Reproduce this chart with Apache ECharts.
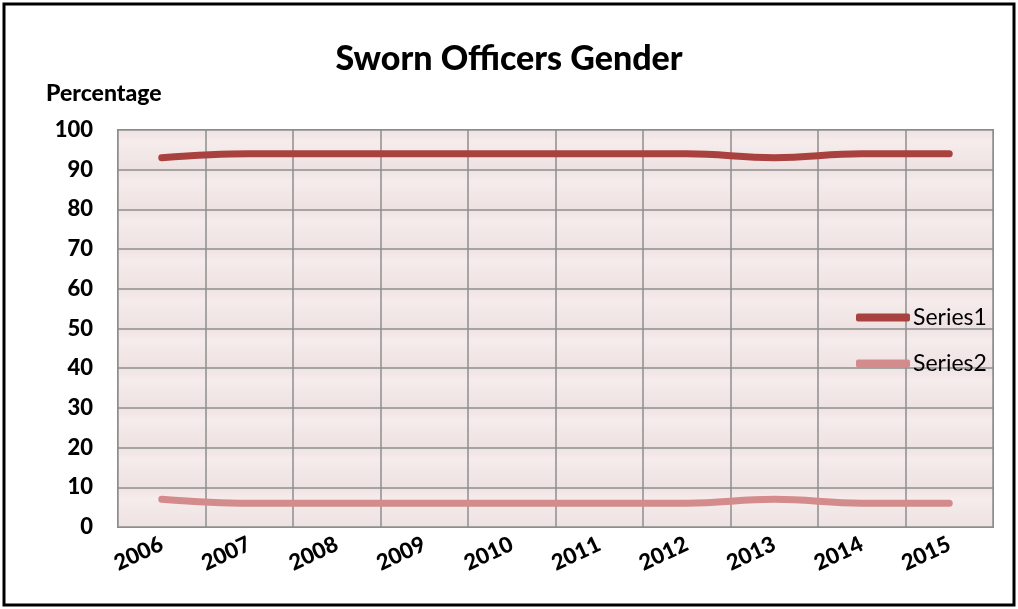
<!DOCTYPE html>
<html>
<head>
<meta charset="utf-8">
<script src="https://cdn.jsdelivr.net/npm/echarts@6/dist/echarts.min.js"></script>
<style>
  html, body { margin: 0; padding: 0; background: #fff; }
  #chart { width: 1018px; height: 609px; }
</style>
</head>
<body>
<div id="chart"></div>
<script>
// 年份
var years = ["2006", "2007", "2008", "2009", "2010", "2011", "2012", "2013", "2014", "2015"];
// 数据
var series1 = [93, 94, 94, 94, 94, 94, 94, 93, 94, 94];
var series2 = [7, 6, 6, 6, 6, 6, 6, 7, 6, 6];
var seriesNames = ["Series1", "Series2"];
var colors = ["#A9413F", "#D48B8B"];

var myChart = echarts.init(document.getElementById("chart"));

var bandColor = new echarts.graphic.LinearGradient(0, 0, 0, 1, [
  { offset: 0, color: "#EFE2E2" },
  { offset: 0.3, color: "#F6ECEC" },
  { offset: 1, color: "#EEE1E1" },
]);

myChart.setOption({
  animation: false,
  color: colors,
  title: {
    text: "Sworn Officers Gender",
    left: "center",
    top: 37,
    textStyle: {
      fontFamily: "Lato",
      fontWeight: 900,
      fontSize: 34,
      color: "#000",
    },
  },
  graphic: [
    {
      type: "rect",
      shape: { x: 4, y: 4, width: 1010, height: 601 },
      style: { fill: "none", stroke: "#000", lineWidth: 3 },
      z: 100,
    },
    {
      type: "text",
      left: 46,
      top: 82,
      style: {
        text: "Percentage",
        fontFamily: "Lato",
        fontWeight: 900,
        fontSize: 23,
        fill: "#000",
      },
    },
  ],
  grid: {
    left: 118,
    right: 25,
    top: 130,
    bottom: 82,
    show: true,
    backgroundColor: "#F2E6E6",
    borderColor: "#8A8A8A",
    borderWidth: 2,
  },
  legend: {
    orient: "vertical",
    left: 851,
    top: 301,
    itemGap: 23,
    itemWidth: 54,
    itemHeight: 8,
    icon: "roundRect",
    data: seriesNames,
    textStyle: {
      fontFamily: "Lato",
      fontSize: 23,
      color: "#000",
      padding: [0, 0, 0, -2],
    },
  },
  xAxis: {
    type: "category",
    data: years,
    boundaryGap: true,
    axisLine: { show: false },
    axisTick: { show: false },
    splitLine: {
      show: true,
      interval: 0,
      lineStyle: { color: "#8E8E8E", width: 1.5 },
    },
    axisLabel: {
      rotate: 25,
      margin: 16,
      interval: 0,
      fontFamily: "Lato",
      fontWeight: 900,
      fontSize: 22,
      color: "#000",
    },
  },
  yAxis: {
    type: "value",
    min: 0,
    max: 100,
    interval: 10,
    axisLine: { show: false },
    axisTick: { show: false },
    axisLabel: {
      margin: 25,
      fontFamily: "Lato",
      fontWeight: 900,
      fontSize: 22,
      color: "#000",
    },
    splitLine: {
      lineStyle: { color: "#8E8E8E", width: 1.5 },
    },
    splitArea: {
      show: true,
      areaStyle: { color: [bandColor] },
    },
  },
  series: [
    {
      name: seriesNames[0],
      type: "line",
      data: series1,
      smooth: 0.4,
      showSymbol: false,
      symbol: "none",
      lineStyle: { width: 7, cap: "round" },
    },
    {
      name: seriesNames[1],
      type: "line",
      data: series2,
      smooth: 0.4,
      showSymbol: false,
      symbol: "none",
      lineStyle: { width: 7, cap: "round" },
    },
  ],
});
</script>
</body>
</html>
